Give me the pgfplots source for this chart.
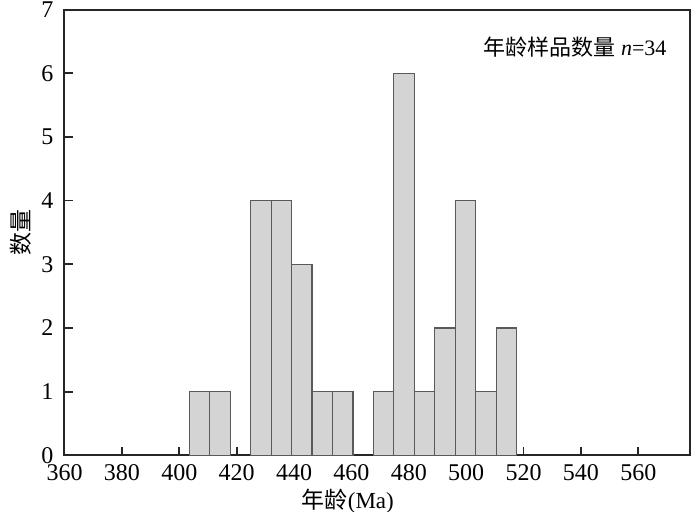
\documentclass[border=0pt]{standalone}
\usepackage{fontspec}
\setmainfont{Liberation Serif}
\newfontfamily\cjk{Noto Sans CJK SC}
\usepackage{pgfplots}
\pgfplotsset{compat=1.18}

\definecolor{barfill}{RGB}{212,212,212}
\definecolor{baredge}{RGB}{90,90,90}

\begin{document}
\begin{tikzpicture}
% page = 700x511 px at 0.5pt/px, axis box from (0,0) to (312.75pt,222.9pt)
\useasboundingbox (-32.25pt,-27.85pt) rectangle (317.75pt,227.65pt);
\begin{axis}[
    scale only axis,
    width=312.75pt,
    height=222.9pt,
    xmin=360, xmax=578,
    ymin=0, ymax=7,
    xtick={360,380,...,560},
    ytick={0,1,...,7},
    tick align=inside,
    xtick pos=bottom,
    ytick pos=left,
    major tick length=4pt,
    tick style={line width=0.9pt, black!85},
    axis line style={line width=1pt, black!85},
    /pgf/number format/assume math mode=true,
    tick label style={font=\fontsize{12}{13}\selectfont},
    xticklabel style={yshift=-1pt},
    yticklabel style={xshift=-2pt},
    xlabel={{\cjk 年龄}(Ma)},
    ylabel={\cjk 数量},
    label style={font=\fontsize{11.5}{13}\selectfont},
    xlabel style={at={(rel axis cs:0.453,0)}, anchor=north, yshift=-13.5pt},
    ylabel style={yshift=-2pt},
    clip=false,
]
% left group
\addplot[ybar interval, fill=barfill, draw=baredge, line width=0.6pt] coordinates {
    (403.50,1) (410.63,1) (417.76,0)
};
% middle group
\addplot[ybar interval, fill=barfill, draw=baredge, line width=0.6pt] coordinates {
    (424.89,4) (432.02,4) (439.15,3) (446.28,1) (453.41,1) (460.54,0)
};
% right group
\addplot[ybar interval, fill=barfill, draw=baredge, line width=0.6pt] coordinates {
    (467.67,1) (474.80,6) (481.93,1) (489.06,2) (496.19,4) (503.32,1) (510.45,2) (517.58,0)
};
\node[anchor=east, inner sep=0pt, font=\fontsize{11}{13}\selectfont]
    at (rel axis cs:0.963,0.916) {{\cjk 年龄样品数量} \textit{n}=34};
\end{axis}
\end{tikzpicture}
\end{document}
